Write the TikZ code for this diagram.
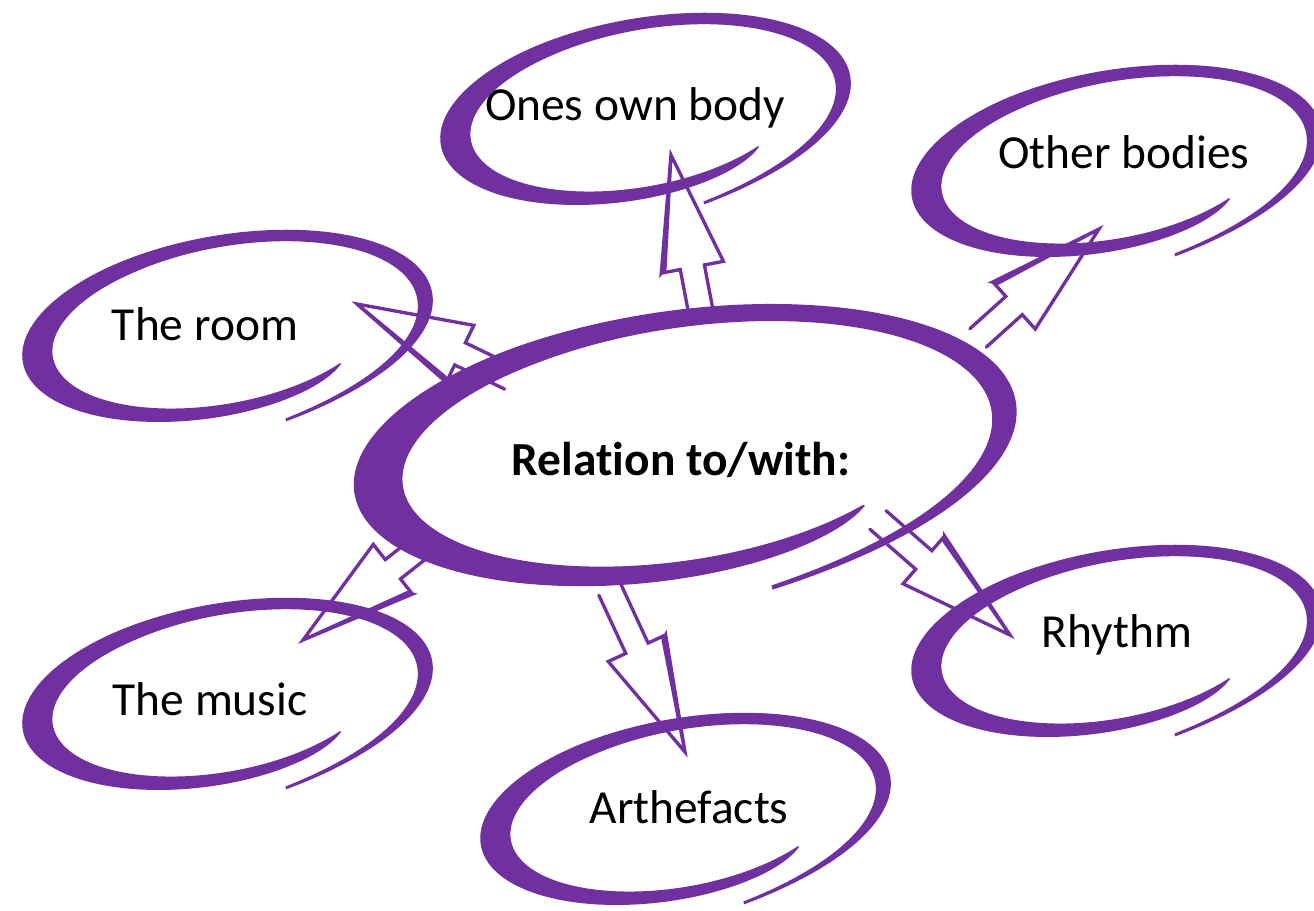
\documentclass[tikz,border=0pt]{standalone}
\usepackage{fontspec}
\setmainfont[Ligatures=NoCommon]{Carlito}
\usetikzlibrary{calc}

\definecolor{ink}{HTML}{7030A0}

\tikzset{
  declare function={
    ringr(\s)=1+0.2*exp(-10*\s)-0.16*exp(-10*(1-\s));
    ringw(\s)=0.005+0.074*min(1,0.15+\s/0.6)*(1-exp(-16*(1-\s)));
  },
  lbl/.style={anchor=base, inner sep=0pt, font=\fontsize{27}{32}\selectfont},
  hollowarrow/.style={draw=ink, line width=1.9pt, line join=miter, line cap=round,
    to path={let \p1=(\tikztostart), \p2=(\tikztotarget),
      \n1={atan2(\y2-\y1,\x2-\x1)}, \n2={veclen(\x2-\x1,\y2-\y1)-65pt} in
      ($(\p1)+(\n1+90:7pt)$) -- ($(\p1)+(\n1:\n2)+(\n1+90:7pt)$)
        -- ($(\p1)+(\n1:\n2)+(\n1+90:18pt)$) -- (\p2)
        -- ($(\p1)+(\n1:\n2)+(\n1-90:18pt)$)
        -- ($(\p1)+(\n1:\n2)+(\n1-90:7pt)$) -- ($(\p1)+(\n1-90:7pt)$)
      ($(\p1)+(\n1:\n2)+(\n1+90:18pt)$) -- (\p2)
        -- ($(\p1)+(\n1:\n2+2pt)+(\n1+90:15.5pt)$) -- cycle}}
}

% center, a, b, rotate, start angle
\newcommand{\brushring}[5]{%
  \fill[ink, shift={(#1)}, rotate=#4, xscale=#2, yscale=#3]
    plot[smooth, variable=\s, domain=0:1, samples=90]
      ({(ringr(\s)+ringw(\s))*cos(#5-390*\s)}, {(ringr(\s)+ringw(\s))*sin(#5-390*\s)})
    -- plot[smooth, variable=\s, domain=1:0, samples=90]
      ({(ringr(\s)-ringw(\s))*cos(#5-390*\s)}, {(ringr(\s)-ringw(\s))*sin(#5-390*\s)})
    -- cycle;}

\begin{document}
\begin{tikzpicture}[x=0.02cm, y=-0.02cm]
\useasboundingbox (0,0) rectangle (1314,910);

% テキスト
\node[lbl, font=\fontsize{27}{32}\selectfont\bfseries] (rel) at (681,475) {Relation to/with:};
\node[lbl] (ones) at (635,120) {Ones own body};
\node[lbl] (other) at (1124,168) {Other bodies};
\node[lbl] (room) at (205,340) {The room};
\node[lbl] (music) at (210,715) {The music};
\node[lbl] (arte) at (689,823) {Arthefacts};
\node[lbl] (rhythm) at (1117,647) {Rhythm};

% 楕円
\brushring{$(rel.base)+(5,-28)$}{312}{128}{8}{80}
\foreach \n/\dx/\dy in {ones/11/-10, other/-7/-6, room/23/-13, music/18/-20, arte/-3/-13, rhythm/0/-5}
  \brushring{$(\n.base)+(\dx,\dy)$}{194}{86}{10}{80};

% 矢印
\draw[hollowarrow] ($(rel.base)+(21,-157)$) to ($(ones.base)+(36,35)$);
\draw[hollowarrow] ($(rel.base)+(297,-137)$) to ($(other.base)+(-25,61)$);
\draw[hollowarrow] ($(rel.base)+(-171,-97)$) to ($(room.base)+(152,-36)$);
\draw[hollowarrow] ($(rel.base)+(-251,65)$) to ($(music.base)+(93,-75)$);
\draw[hollowarrow] ($(rel.base)+(-71,115)$) to ($(arte.base)+(-4,-71)$);
\draw[hollowarrow] ($(rel.base)+(197,45)$) to ($(rhythm.base)+(-107,-12)$);
\end{tikzpicture}
\end{document}
